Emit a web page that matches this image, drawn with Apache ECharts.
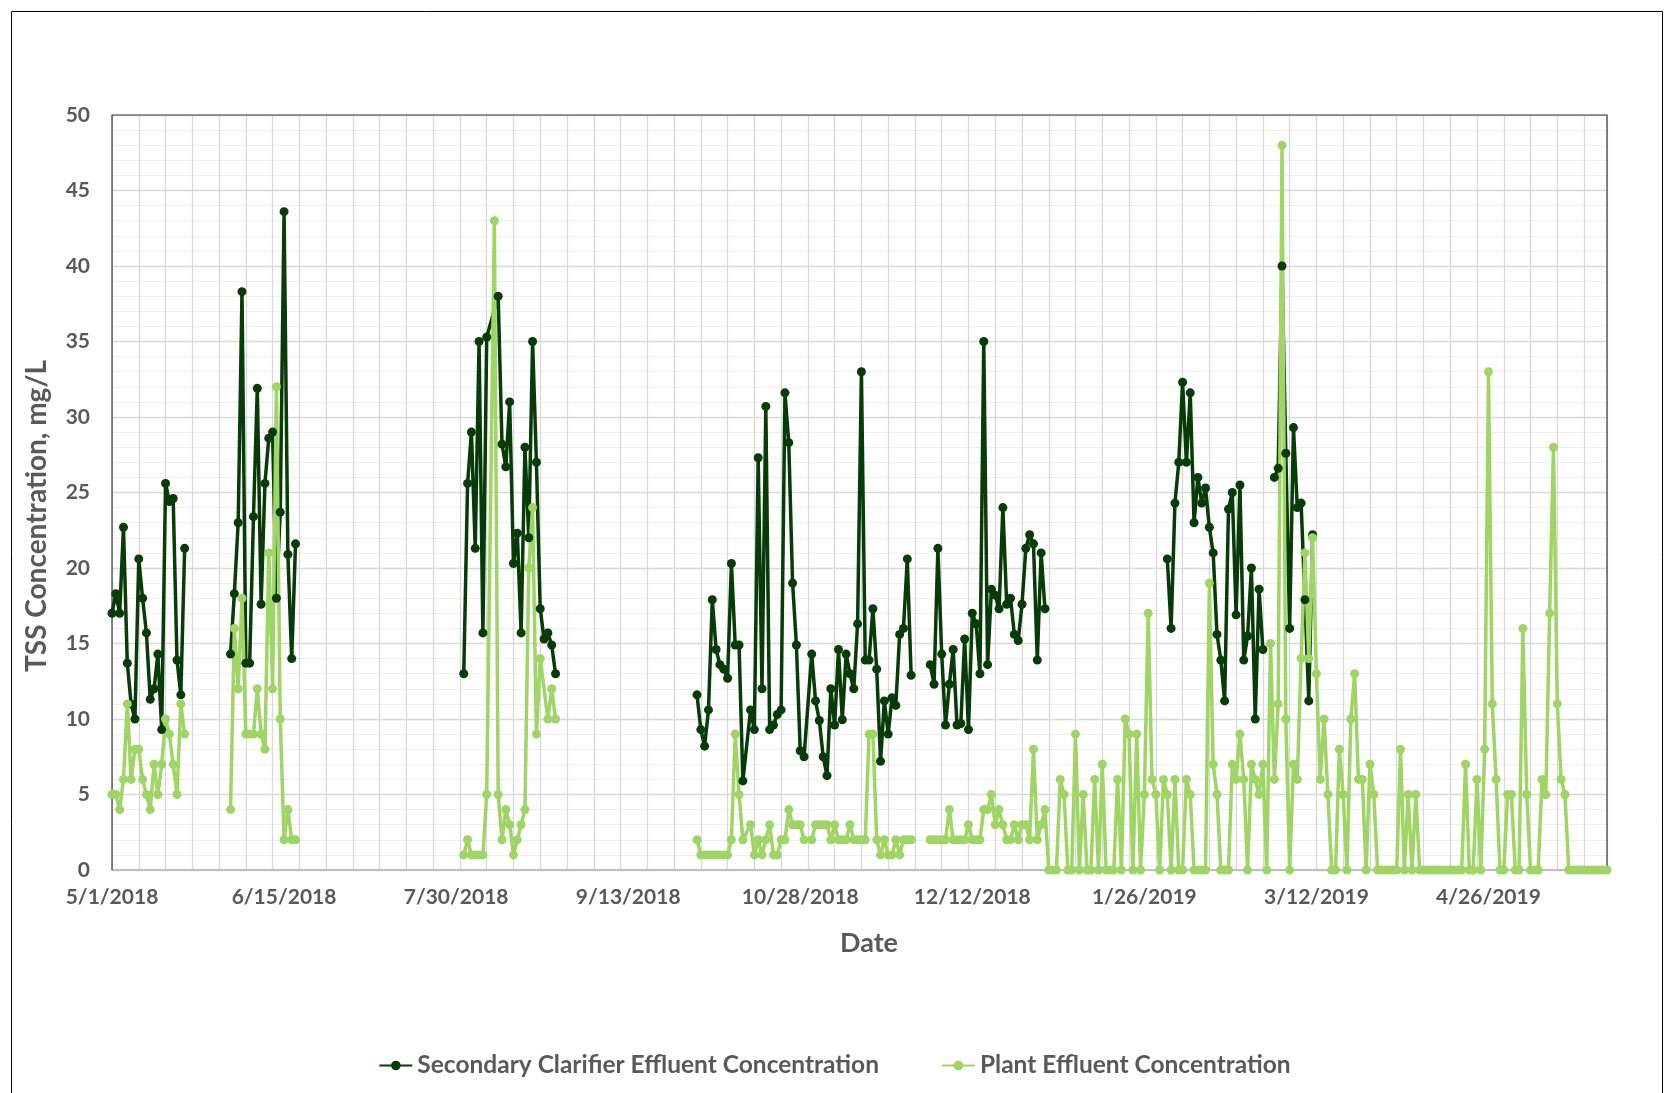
<!DOCTYPE html>
<html>
<head>
<meta charset="utf-8">
<script src="https://cdn.jsdelivr.net/npm/echarts@6/dist/echarts.min.js"></script>
<style>
html,body{margin:0;padding:0;background:#fff;}
#chart{width:1669px;height:1093px;}
</style>
</head>
<body>
<div id="chart"></div>
<script>
// ---- Data (dates are segment start dates; one value per consecutive day; null = no sample that day) ----
const axisStart = '2018-05-01';
const axisEnd = '2019-05-27';
const axisTickDays = 45;

// Secondary Clarifier Effluent Concentration (mg/L)
const sceMay18 = [17, 18.3, 17, 22.7, 13.7, 11, 10, 20.6, 18, 15.7, 11.3, 12, 14.3, 9.3, 25.6, 24.4, 24.6, 13.9, 11.6, 21.3];
const sceJun18 = [14.3, 18.3, 23, 38.3, 13.7, 13.7, 23.4, 31.9, 17.6, 25.6, 28.6, 29, 18, 23.7, 43.6, 20.9, 14, 21.6];
const sceAug18 = [13, 25.6, 29, 21.3, 35, 15.7, 35.3, null, null, 38, 28.2, 26.7, 31, 20.3, 22.3, 15.7, 28, 22, 35, 27, 17.3, 15.3, 15.7, 14.9, 13];
const sceOctNov18 = [11.6, 9.3, 8.2, 10.6, 17.9, 14.6, 13.6, 13.3, 12.7, 20.3, 14.9, 14.9, 5.9, null,
  10.6, 9.3, 27.3, 12, 30.7, 9.3, 9.6, 10.3, 10.6, 31.6, 28.3, 19, 14.9, 7.9, 7.5, null,
  14.3, 11.2, 9.9, 7.5, 6.25, 12, 9.6, 14.6, 9.95, 14.3, 13, 12, 16.3, 33, 13.9, 13.9, 17.3, 13.3, 7.2, 11.2, 9, 11.4, 10.9, 15.6, 16, 20.6, 12.9];
const sceDec18 = [13.6, 12.3, 21.3, 14.3, 9.6, 12.3, 14.6, 9.6, 9.7, 15.3, 9.3, 17, 16.3, 13, 35, 13.6, 18.6, 18.2, 17.3, 24, 17.6, 18, 15.6, 15.2, 17.6, 21.3, 22.2, 21.6, 13.9, 21, 17.3];
const sceFeb19 = [20.6, 16, 24.3, 27, 32.3, 27, 31.6, 23, 26, 24.3, 25.3, 22.7, 21, 15.6, 13.9, 11.2, 23.9, 25, 16.9, 25.5, 13.9, 15.5, 20, 10, 18.6, 14.6];
const sceMar19 = [26, 26.6, 40, 27.6, 16, 29.3, 24, 24.3, 17.9, 11.2, 22.2];

// Plant Effluent Concentration (mg/L)
const pecMay18 = [5, 5, 4, 6, 11, 6, 8, 8, 6, 5, 4, 7, 5, 7, 10, 9, 7, 5, 11, 9];
const pecJun18 = [4, 16, 12, 18, 9, 9, 9, 12, 9, 8, 21, 12, 32, 10, 2, 4, 2, 2];
const pecAug18 = [1, 2, 1, 1, 1, 1, 5, null, 43, 5, 2, 4, 3, 1, 2, 3, 4, 20, 24, 9, 14, null, 10, 12, 10];
const pecOctNov18 = [2, 1, 1, 1, 1, 1, 1, 1, 1, 2, 9, 5, 2, null,
  3, 1, 2, 1, 2, 3, 1, 1, 2, 2, 4, 3, 3, 3, 2, null,
  2, 3, 3, 3, 3, 2, 3, 2, 2, 2, 3, 2, 2, 2, 2, 9, 9, 2, 1, 2, 1, 1, 2, 1, 2, 2, 2];
const pecDec18 = [2, 2, 2, 2, 2, 4, 2, 2, 2, 2, 3, 2, 2, 2, 4, 4, 5, 3, 4, 3, 2, 2, 3, 2, 3, 3, 2, 8, 2, 3, 4];
const pecJan19 = [0, 0, 0, 6, 5, 0, 0, 9, 0, 5, 0, 0, 6, 0, 7, 0, 0, 0, 6, 0, 10, 9, 0, 9, 0, 5, 17, 6, 5, 0, 6];
const pecFeb19 = [5, 0, 6, 0, 0, 6, 5, 0, 0, 0, 0, 19, 7, 5, 0, 0, 0, 7, 6, 9, 6, 0, 7, 6, 5, 7, 0, 15];
const pecMar19 = [6, 11, 48, 10, 0, 7, 6, 14, 21, 14, 22, 13, 6, 10, 5, 0, 0, 8, 5, 0, 10, 13, 6, 6, 0, 7, 5, 0, 0, 0, 0];
const pecApr19 = [0, 0, 8, 0, 5, 0, 5, 0, 0, 0, 0, 0, 0, 0, 0, 0, 0, 0, 0, 7, 0, 0, 6, 0, 8, 33, 11, 6, 0, 0];
const pecMay19 = [5, 5, 0, 0, 16, 5, 0, 0, 0, 6, 5, 17, 28, 11, 6, 5, 0, 0, 0, 0, 0, 0, 0, 0, 0, 0, 0];

// Groups of connected segments (the line is broken between groups)
const sceGroups = [
  [['2018-05-01', sceMay18]],
  [['2018-06-01', sceJun18]],
  [['2018-08-01', sceAug18]],
  [['2018-10-01', sceOctNov18]],
  [['2018-12-01', sceDec18]],
  [['2019-02-01', sceFeb19]],
  [['2019-03-01', sceMar19]]
];
const pecGroups = [
  [['2018-05-01', pecMay18]],
  [['2018-06-01', pecJun18]],
  [['2018-08-01', pecAug18]],
  [['2018-10-01', pecOctNov18]],
  [['2018-12-01', pecDec18], ['2019-01-01', pecJan19], ['2019-02-01', pecFeb19], ['2019-03-01', pecMar19], ['2019-04-01', pecApr19], ['2019-05-01', pecMay19]]
];

const seriesNames = ['Secondary Clarifier Effluent Concentration', 'Plant Effluent Concentration'];
const xTitle = 'Date';
const yTitle = 'TSS Concentration, mg/L';

// ---- Helpers ----
const DAYMS = 86400000;
function toUTC(s) { const p = s.split('-').map(Number); return Date.UTC(p[0], p[1] - 1, p[2]); }
const T0 = toUTC(axisStart);
function dayOf(s) { return Math.round((toUTC(s) - T0) / DAYMS); }
function fmtDay(d) {
  const dt = new Date(T0 + Math.round(d) * DAYMS);
  return (dt.getUTCMonth() + 1) + '/' + dt.getUTCDate() + '/' + dt.getUTCFullYear();
}
function build(groups) {
  const out = [];
  groups.forEach((g, gi) => {
    let last = null;
    g.forEach(([start, vals]) => {
      const d0 = dayOf(start);
      vals.forEach((v, i) => {
        if (v === null || v === undefined) return;
        out.push([d0 + i, v]);
        last = d0 + i;
      });
    });
    if (gi < groups.length - 1) out.push([last + 0.5, '-']);
  });
  return out;
}

const maxDay = dayOf(axisEnd);
const textColor = '#595959';
const fontFam = 'Lato, "Open Sans", sans-serif';

const W = 1669, H = 1093;
const G = { left: 112, right: 62, top: 115, bottom: 223 };
const px0 = G.left, px1 = W - G.right, py0 = G.top, py1 = H - G.bottom;

const chart = echarts.init(document.getElementById('chart'), null, { renderer: 'canvas' });
chart.setOption({
  animation: false,
  backgroundColor: '#ffffff',
  graphic: [{
    type: 'rect', left: 9, top: 9, silent: true,
    shape: { width: 1651, height: 1100 },
    style: { fill: 'none', stroke: '#000000', lineWidth: 1 }
  }, {
    type: 'polyline', silent: true, z: 1,
    shape: { points: [[px0, py1], [px0, py0], [px1, py0], [px1, py1]] },
    style: { fill: 'none', stroke: '#3A3A3A', lineWidth: 1.2 }
  }, {
    type: 'text', silent: true, x: 37, y: 516, rotation: Math.PI / 2,
    style: { text: yTitle, x: 0, y: 0, align: 'center', verticalAlign: 'middle',
      fill: textColor, font: 'bold 28px ' + fontFam }
  }, {
    type: 'text', silent: true, x: 869, y: 943,
    style: { text: xTitle, x: 0, y: 0, align: 'center', verticalAlign: 'middle',
      fill: textColor, font: 'bold 27px ' + fontFam }
  }],
  grid: { left: G.left, right: G.right, top: G.top, bottom: G.bottom },
  legend: {
    top: 1048, left: 'center',
    itemWidth: 33, itemHeight: 12, itemGap: 62,
    textStyle: { color: textColor, fontSize: 24.5, fontWeight: 'bold', fontFamily: fontFam },
    data: seriesNames
  },
  xAxis: [{
    type: 'value', min: 0, max: maxDay, interval: axisTickDays,
    axisLine: { show: true, lineStyle: { color: '#BFBFBF', width: 2 } },
    axisTick: { show: false },
    axisLabel: { formatter: fmtDay, showMaxLabel: false, color: textColor, fontSize: 21, fontWeight: 'bold', fontFamily: fontFam, margin: 17 },
    splitLine: { show: false }
  }, {
    type: 'value', min: 0, max: maxDay, interval: 7, position: 'bottom',
    axisLine: { show: false }, axisTick: { show: false }, axisLabel: { show: false },
    splitLine: { show: true, lineStyle: { color: '#D9D9D9', width: 1.3 } }
  }],
  yAxis: {
    type: 'value', min: 0, max: 50, interval: 5,
    axisLine: { show: false }, axisTick: { show: false },
    axisLabel: { color: textColor, fontSize: 21, fontWeight: 'bold', fontFamily: fontFam, margin: 22 },
    splitLine: { show: true, lineStyle: { color: '#D9D9D9', width: 1.3 } },
    minorTick: { show: false, splitNumber: 5 },
    minorSplitLine: { show: true, lineStyle: { color: '#EFEFEF', width: 1 } }
  },
  series: [{
    name: seriesNames[0], type: 'line', xAxisIndex: 0,
    data: build(sceGroups), connectNulls: false,
    symbol: 'circle', symbolSize: 9,
    itemStyle: { color: '#073B07' },
    lineStyle: { color: '#073B07', width: 3.5 }
  }, {
    name: seriesNames[1], type: 'line', xAxisIndex: 0,
    data: build(pecGroups), connectNulls: false,
    symbol: 'circle', symbolSize: 9,
    itemStyle: { color: '#9FD564' },
    lineStyle: { color: '#9FD564', width: 3.5 }
  }]
});
</script>
</body>
</html>
